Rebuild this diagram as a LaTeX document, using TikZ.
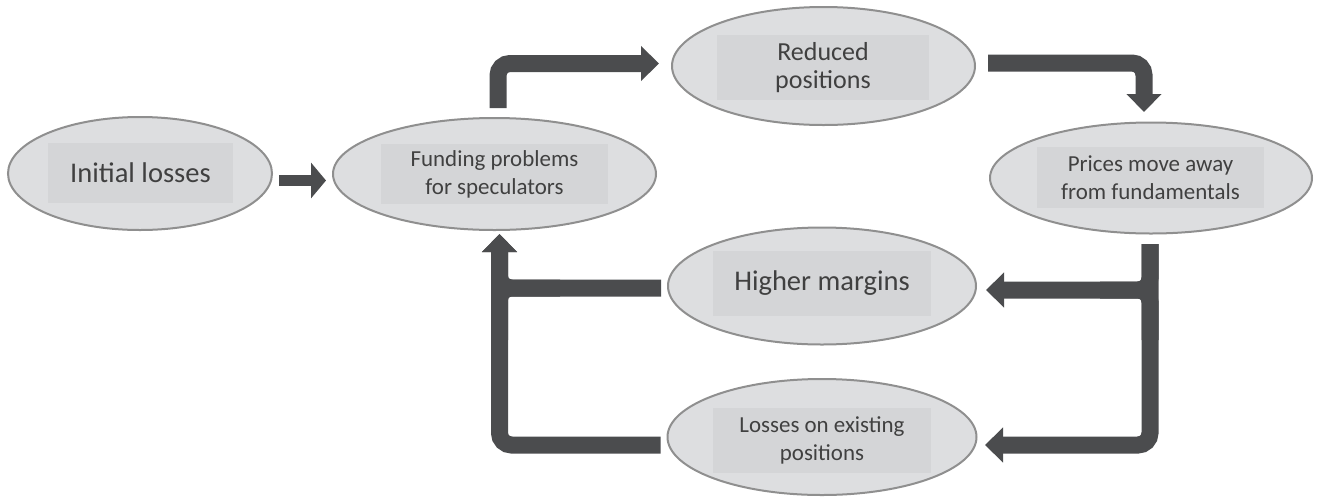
\documentclass[tikz,border=0pt]{standalone}
\usepackage{fontspec}
\setmainfont{Carlito}
\usetikzlibrary{shapes.geometric,arrows.meta,calc}
\definecolor{arrowgray}{HTML}{4B4C4E}
\definecolor{ellfill}{HTML}{DDDEE0}
\definecolor{ellline}{HTML}{8F8F8F}
\definecolor{boxfill}{HTML}{D4D5D7}
\definecolor{txt}{HTML}{404040}
\tikzset{
  ell/.style={ellipse, draw=ellline, fill=ellfill, line width=1.5pt, inner sep=0pt},
  tbox/.style={rectangle, fill=boxfill, inner sep=0pt, align=center, text=txt},
  big/.style={font=\fontsize{21.4}{25}\selectfont},
  small/.style={font=\fontsize{17.2}{21}\selectfont},
  mid/.style={font=\fontsize{19.5}{21}\selectfont},
  conn/.style={draw=arrowgray, line width=12.75pt, rounded corners=9pt},
  arr/.style={conn, -{Triangle[width=25.5pt,length=13.5pt]}},
}
\begin{document}
\begin{tikzpicture}[x=0.75pt,y=-0.75pt]
\useasboundingbox (0,0) rectangle (1321,497);
% ellipses
\node[ell, minimum width=198pt, minimum height=84.75pt] (A) at (140,173.5) {};
\node[ell, minimum width=242.25pt, minimum height=84pt] (B) at (494.5,174) {};
\node[ell, minimum width=227.25pt, minimum height=88.5pt] (C) at (823.5,66) {};
\node[ell, minimum width=241.5pt, minimum height=83.25pt] (D) at (1151,178) {};
\node[ell, minimum width=231pt, minimum height=87.75pt] (E) at (822,286) {};
\node[ell, minimum width=231.75pt, minimum height=87pt] (F) at (822,437) {};
% text boxes
\node[tbox, big, minimum width=138.75pt, minimum height=45pt] (At) at (140.5,173) {Initial losses};
\node[tbox, small, minimum width=170.25pt, minimum height=45pt] (Bt) at (494.5,174) {Funding problems\\for speculators};
\node[tbox, mid, minimum width=159pt, minimum height=48.75pt] (Ct) at (823,67.5) {Reduced\\positions};
\node[tbox, small, minimum width=170.25pt, minimum height=45.75pt] (Dt) at (1150.5,177.5) {Prices move away\\from fundamentals};
\node[tbox, big, minimum width=163.5pt, minimum height=48.75pt] (Et) at (822,283.5) {Higher margins};
\node[tbox, small, minimum width=163.5pt, minimum height=48.75pt] (Ft) at (822,440.5) {Losses on existing\\positions};
% helper coordinates for junction fillets
\coordinate (rjb) at (1150,340);
\coordinate (rjl) at (1100,290);
\coordinate (ljb) at (499.5,340);
\coordinate (ljr) at (560,288);
% connectors
\draw[draw=arrowgray, line width=8.25pt, -{Triangle[width=26.25pt,length=11.25pt]}]
  ($(A.east)+(6,7)$) -- ($(B.west)+(-6,6.5)$);
\draw[arr] ($(B.north)+(3.5,-9)$) |- ($(C.west)+(-12,-2.5)$);
\draw[arr] ($(C.east)+(12,-3)$) -| ($(D.north)+(-7,-9.5)$);
\draw[arr] ($(D.south)+(-1,9.5)$) |- ($(F.east)+(7.5,8)$);
\draw[arr] ($(D.south)+(-1,9.5)$) |- ($(E.east)+(9,4)$);
\draw[conn] (rjb) |- (rjl);
\draw[arr] ($(F.west)+(-6,8)$) -| ($(B.south)+(5,3)$);
\draw[arr] ($(E.west)+(-6,2)$) -| ($(B.south)+(5,3)$);
\draw[conn] (ljb) |- (ljr);
\end{tikzpicture}
\end{document}
